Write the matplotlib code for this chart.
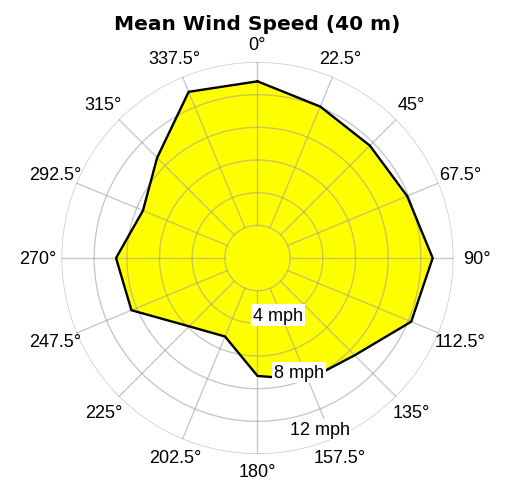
import numpy as np
import matplotlib.pyplot as plt

# 16 compass directions (deg) and mean wind speed (mph)
directions = [0, 22.5, 45, 67.5, 90, 112.5, 135, 157.5,
              180, 202.5, 225, 247.5, 270, 292.5, 315, 337.5]
mean_speed = [11.63, 10.79, 10.46, 10.66, 11.53, 10.95, 9.05, 8.68,
              7.76, 5.59, 6.36, 8.98, 9.31, 8.16, 9.34, 11.84]
direction_labels = ["0°", "22.5°", "45°", "67.5°", "90°", "112.5°", "135°", "157.5°",
                    "180°", "202.5°", "225°", "247.5°", "270°", "292.5°", "315°", "337.5°"]
ring_values = [4, 8, 12]
ring_labels = ["4 mph", "8 mph", "12 mph"]

r_max = 12.9
n_rings = 6
grid_color = "#9c9c9c"

fig = plt.figure(figsize=(5.05, 4.89), dpi=100)
ax = fig.add_axes([0.1218, 0.0695, 0.7762, 0.8016], projection="polar")
ax.set_theta_zero_location("N")
ax.set_theta_direction(-1)
ax.set_ylim(0, r_max)
ax.grid(False)
ax.set_xticks([])
ax.set_yticks([])
ax.spines["polar"].set_visible(False)

# closed polygon of the mean speeds
theta = np.deg2rad(directions + [directions[0]])
speed = np.array(mean_speed + [mean_speed[0]])
ax.fill(theta, speed, color="#ffff00", zorder=1)

# rings and spokes (spokes start at the first ring)
t = np.linspace(0, 2 * np.pi, 721)
ring_r = np.linspace(r_max / n_rings, r_max, n_rings)
for r in ring_r:
    ax.plot(t, np.full_like(t, r), color=grid_color, lw=1.0, alpha=0.55, zorder=2)
for d in directions:
    ax.plot([np.deg2rad(d)] * 2, [ring_r[0], r_max], color=grid_color,
            lw=1.0, alpha=0.55, zorder=2)

ax.plot(theta, speed, color="black", lw=1.7, zorder=3)

# direction labels (pushed out a little more at the sides, where they are wider)
for d, lab in zip(directions, direction_labels):
    th = np.deg2rad(d)
    r_lab = r_max * (1.09 + 0.03 * abs(np.sin(th)))
    ax.text(th, r_lab, lab, ha="center", va="center",
            fontsize=13, family="Liberation Sans")

# speed labels along one ray
for v, lab in zip(ring_values, ring_labels):
    ax.text(np.deg2rad(160), v, lab, ha="center", va="center", fontsize=13,
            family="Liberation Sans", zorder=4,
            bbox=dict(boxstyle="square,pad=0.12", fc="white", ec="none"))

fig.text(0.51, 1 - 30 / 489, "Mean Wind Speed (40 m)", ha="center",
         va="baseline", fontsize=14.5, fontweight="bold")

fig.savefig("out.png", dpi=100)
